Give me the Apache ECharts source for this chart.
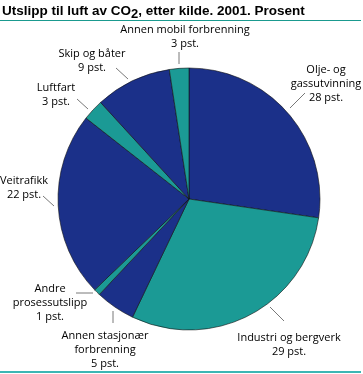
<!DOCTYPE html>
<html>
<head>
<meta charset="utf-8">
<script src="https://cdn.jsdelivr.net/npm/echarts@6/dist/echarts.min.js"></script>
<style>
html,body{margin:0;padding:0;background:#fff;}
#chart{width:363px;height:374px;}
</style>
</head>
<body>
<div id="chart"></div>
<script>
// Data (clockwise from 12 o'clock)
var categories = ['Olje- og\ngassutvinning', 'Industri og bergverk', 'Annen stasjonær\nforbrenning', 'Andre\nprosessutslipp', 'Veitrafikk', 'Luftfart', 'Skip og båter', 'Annen mobil forbrenning'];
var shares = [27.3, 29.8, 4.9, 0.8, 22.8, 2.6, 9.4, 2.4];   // slice sizes
var pctLabels = [28, 29, 5, 1, 22, 3, 9, 3];                // printed percentages

var BLUE = '#1b3089', TEAL = '#1b9a95';
var sliceColors = [BLUE, TEAL, BLUE, TEAL, BLUE, TEAL, BLUE, TEAL];

// label placement: [centerX, centerY, lineStartX, lineStartY, lineEndX, lineEndY]
var labelPos = [
  [326, 84, 305, 93, 290, 108],
  [289, 345, 284, 321, 270, 307],
  [105, 350, 113, 323, 113, 311],
  [50, 303, 76, 293, 93, 293],
  [24, 188, 43, 196, 54, 206],
  [56, 95, 77, 99, 88, 109],
  [92, 61, 116, 68, 128, 79],
  [185, 37, 179, 52, 179, 64]
];

var chart = echarts.init(document.getElementById('chart'), null, {renderer: 'canvas'});
var FONT = '"Open Sans", "Noto Sans", sans-serif';
var TFONT = '"Liberation Sans", Arial, sans-serif';

chart.setOption({
  animation: false,
  title: {
    text: 'Utslipp til luft av CO{sub|2}, etter kilde. 2001. Prosent',
    left: 2, top: 1, padding: 0,
    textStyle: {
      fontFamily: TFONT, fontWeight: 'bold', fontSize: 13.5, color: '#000',
      rich: { sub: { fontFamily: TFONT, fontWeight: 'bold', fontSize: 13, color: '#000', padding: [7, 0, 0, 0] } }
    }
  },
  graphic: [
    { type: 'line', shape: {x1: 0, y1: 20.5, x2: 361, y2: 20.5}, style: {stroke: '#1a9a8f', lineWidth: 1} },
    { type: 'line', shape: {x1: 0, y1: 372, x2: 361, y2: 372}, style: {stroke: '#3cb6b4', lineWidth: 2} }
  ],
  series: [{
    type: 'pie',
    center: [189, 199],
    radius: 131,
    startAngle: 90,
    clockwise: true,
    avoidLabelOverlap: false,
    data: categories.map(function (c, i) {
      return { name: c, value: shares[i], itemStyle: { color: sliceColors[i] } };
    }),
    itemStyle: { borderColor: '#111', borderWidth: 0.6 },
    emphasis: { disabled: true },
    label: {
      show: true,
      position: 'outside',
      overflow: 'none',
      fontFamily: FONT, fontSize: 11, color: '#000', lineHeight: 14,
      align: 'center',
      formatter: function (p) { return p.name + '\n' + pctLabels[p.dataIndex] + ' pst.'; }
    },
    labelLine: { show: true, lineStyle: { color: '#555', width: 0.8 } },
    labelLayout: function (p) {
      var lp = labelPos[p.dataIndex];
      return {
        x: lp[0], y: lp[1], align: 'center', verticalAlign: 'middle',
        hideOverlap: false, moveOverlap: null,
        labelLinePoints: [[lp[2], lp[3]], [lp[4], lp[5]], [lp[4], lp[5]]]
      };
    }
  }]
});
</script>
</body>
</html>
